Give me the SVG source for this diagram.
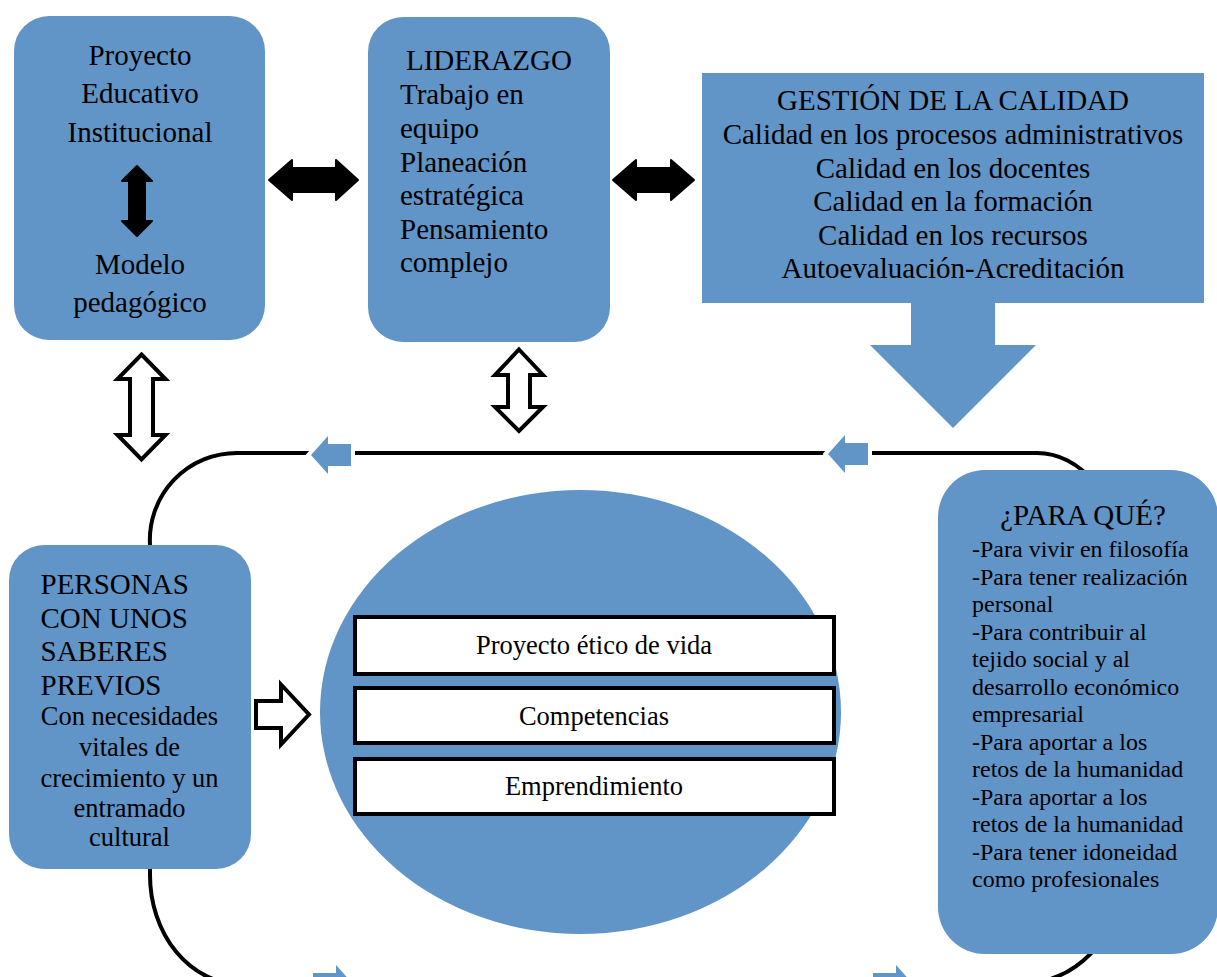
<svg xmlns="http://www.w3.org/2000/svg" width="1217" height="977" viewBox="0 0 1217 977">
<style>
.blue{fill:#6194C7;}
.t{font-family:"Liberation Serif","Times New Roman",serif;fill:#000;}
.f29{font-size:29px;}
.f26{font-size:26.5px;}
.f24{font-size:24px;}
.mid{text-anchor:middle;}
.loop{fill:none;stroke:#000;stroke-width:4;}
.solid{fill:#000;stroke:#000;stroke-width:2;stroke-linejoin:round;}
.hollow{fill:#fff;stroke:#000;stroke-width:4;stroke-linejoin:miter;}
.small{fill:#6194C7;stroke:#fff;stroke-width:8;stroke-linejoin:miter;paint-order:stroke;}
.box{fill:#fff;stroke:#000;stroke-width:4;}
</style>
<rect width="1217" height="977" fill="#fff"/>
<g id="connectors">
<path class="loop" d="M150 545 A87 87 0 0 1 237 453 H1037 A83 107 0 0 1 1120 560 V880 A100 104 0 0 1 1020 984 H240 A90 109 0 0 1 150 875 Z"/>
<polygon class="small" points="311,455 328,436 328,444 351,444 351,466 328,466 328,474"/>
<polygon class="small" points="828,454 845,435 845,443 868,443 868,465 845,465 845,473"/>
<polygon class="small" points="353,984 336,965 336,973 313,973 313,995 336,995 336,1003"/>
<polygon class="small" points="913,984 896,965 896,973 873,973 873,995 896,995 896,1003"/>
<polygon class="solid" points="269,180 292,160 292,168 336,168 336,160 358,180 336,200 336,192 292,192 292,200"/>
<polygon class="solid" points="613,180 636,160 636,168 671,168 671,160 694,180 671,200 671,192 636,192 636,200"/>
<polygon class="hollow" points="141.5,354.5 165.5,379 153,379 153,435 165.5,435 141.5,459.5 117.5,435 130,435 130,379 117.5,379"/>
<polygon class="hollow" points="519,349.5 543,375 530,375 530,407 543,407 519,431 495,407 508,407 508,375 495,375"/>
<polygon class="hollow" points="256,701 281,701 281,684.5 309,714.5 281,744.5 281,728 256,728"/>
<polygon class="blue" points="911,302 995,302 995,345 1036,345 953,428 870,345 911,345"/>
</g>
<g id="node-pei">
<rect class="blue" x="14" y="16" width="251" height="324" rx="35" ry="35"/>
<text class="t f29 mid" x="140" y="65">Proyecto</text>
<text class="t f29 mid" x="140" y="103">Educativo</text>
<text class="t f29 mid" x="140" y="142">Institucional</text>
<polygon class="solid" points="137,166 152,181 145,181 145,221 152,221 137,236 122,221 129,221 129,181 122,181"/>
<text class="t f29 mid" x="140" y="274">Modelo</text>
<text class="t f29 mid" x="140" y="312">pedagógico</text>
</g>
<g id="node-liderazgo">
<rect class="blue" x="368" y="17" width="242" height="325" rx="35" ry="35"/>
<text class="t f29" x="406" y="70">LIDERAZGO</text>
<text class="t f29" x="400" y="104">Trabajo en</text>
<text class="t f29" x="400" y="137.5">equipo</text>
<text class="t f29" x="400" y="171.5">Planeación</text>
<text class="t f29" x="400" y="205">estratégica</text>
<text class="t f29" x="400" y="238.5">Pensamiento</text>
<text class="t f29" x="400" y="272">complejo</text>
</g>
<g id="node-calidad">
<rect class="blue" x="702" y="73" width="502" height="230"/>
<text class="t f29 mid" x="953" y="110">GESTIÓN DE LA CALIDAD</text>
<text class="t f29 mid" x="953" y="143.5">Calidad en los procesos administrativos</text>
<text class="t f29 mid" x="953" y="177.5">Calidad en los docentes</text>
<text class="t f29 mid" x="953" y="211">Calidad en la formación</text>
<text class="t f29 mid" x="953" y="244.5">Calidad en los recursos</text>
<text class="t f29 mid" x="953" y="278">Autoevaluación-Acreditación</text>
</g>
<g id="node-personas">
<rect class="blue" x="9" y="545" width="242" height="324" rx="35" ry="35"/>
<text class="t f29" x="40.5" y="594">PERSONAS</text>
<text class="t f29" x="40.5" y="627.5">CON UNOS</text>
<text class="t f29" x="40.5" y="661">SABERES</text>
<text class="t f29" x="40.5" y="694.5">PREVIOS</text>
<text class="t f26 mid" x="129.5" y="725">Con necesidades</text>
<text class="t f26 mid" x="129.5" y="756">vitales de</text>
<text class="t f26 mid" x="129.5" y="786.5">crecimiento y un</text>
<text class="t f26 mid" x="129.5" y="817">entramado</text>
<text class="t f26 mid" x="129.5" y="845.5">cultural</text>
</g>
<g id="node-centro">
<ellipse class="blue" cx="580.5" cy="712" rx="260.5" ry="222"/>
<rect class="box" x="355" y="617" width="479" height="57"/>
<text class="t f26 mid" x="594" y="654">Proyecto ético de vida</text>
<rect class="box" x="355" y="688" width="479" height="55"/>
<text class="t f26 mid" x="594" y="725">Competencias</text>
<rect class="box" x="355" y="759" width="479" height="55"/>
<text class="t f26 mid" x="594" y="795">Emprendimiento</text>
</g>
<g id="node-paraque">
<rect class="blue" x="938" y="470" width="280" height="484" rx="47" ry="47"/>
<text class="t f29 mid" x="1083" y="525">¿PARA QUÉ?</text>
<text class="t f24" x="972" y="557">-Para vivir en filosofía</text>
<text class="t f24" x="972" y="584.5">-Para tener realización</text>
<text class="t f24" x="972" y="612">personal</text>
<text class="t f24" x="972" y="639.5">-Para contribuir al</text>
<text class="t f24" x="972" y="667">tejido social y al</text>
<text class="t f24" x="972" y="694.5">desarrollo económico</text>
<text class="t f24" x="972" y="722">empresarial</text>
<text class="t f24" x="972" y="749.5">-Para aportar a los</text>
<text class="t f24" x="972" y="777">retos de la humanidad</text>
<text class="t f24" x="972" y="804.5">-Para aportar a los</text>
<text class="t f24" x="972" y="832">retos de la humanidad</text>
<text class="t f24" x="972" y="859.5">-Para tener idoneidad</text>
<text class="t f24" x="972" y="887">como profesionales</text>
</g>
</svg>
